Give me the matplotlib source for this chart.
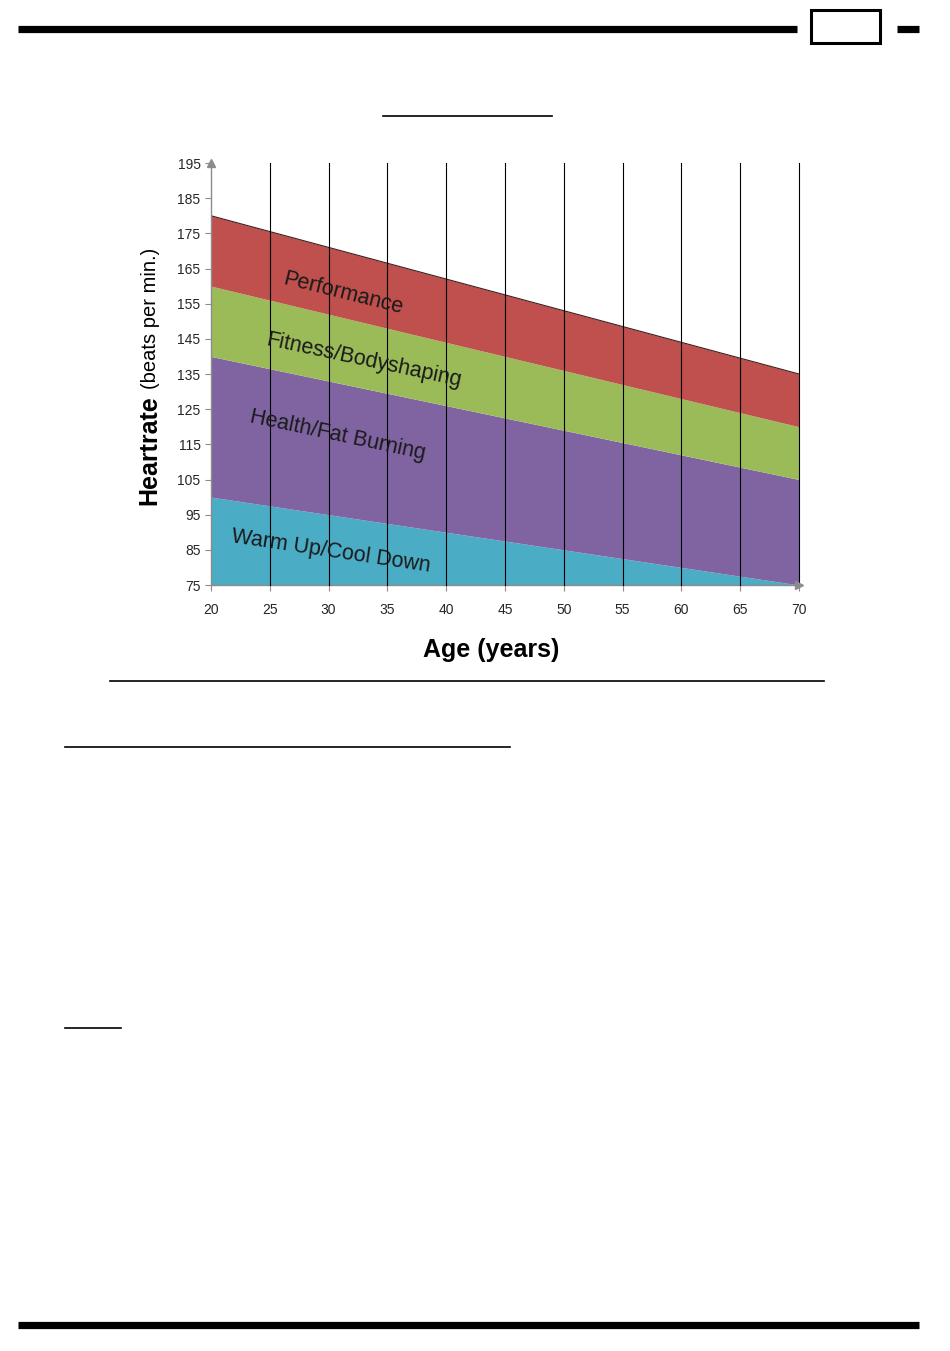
import matplotlib
matplotlib.use('Agg')
import matplotlib.pyplot as plt
from matplotlib.patches import Rectangle

# dades llegides del gràfic (pulsacions per edat)
ages = [20, 25, 30, 35, 40, 45, 50, 55, 60, 65, 70]
warmup_top = [100, 97.5, 95, 92.5, 90, 87.5, 85, 82.5, 80, 77.5, 75]
health_top = [140, 136.5, 133, 129.5, 126, 122.5, 119, 115.5, 112, 108.5, 105]
fitness_top = [160, 156, 152, 148, 144, 140, 136, 132, 128, 124, 120]
performance_top = [180, 175.5, 171, 166.5, 162, 157.5, 153, 148.5, 144, 139.5, 135]

zone_names = ['Warm Up/Cool Down', 'Health/Fat Burning', 'Fitness/Bodyshaping', 'Performance']
zone_colors = ['#4bacc6', '#8064a2', '#9bbb59', '#c0504d']
y_ticks = list(range(75, 196, 10))
x_ticks = ages

W, H = 950, 1351
fig = plt.figure(figsize=(W / 100, H / 100), dpi=100)

# capa de fons per a les línies de la pàgina (coordenades en píxels)
page = fig.add_axes([0, 0, 1, 1])
page.set_xlim(0, W)
page.set_ylim(H, 0)
page.axis('off')
page.plot([18, 797], [29, 29], color='black', lw=5.2, solid_capstyle='butt')
page.add_patch(Rectangle((811, 10), 69, 33, fill=False, edgecolor='black', lw=2.2))
page.plot([897, 919], [29, 29], color='black', lw=5.2, solid_capstyle='butt')
page.plot([383, 552], [116, 116], color='black', lw=1.2)
page.plot([110, 824], [681, 681], color='black', lw=1.2)
page.plot([65, 510], [747, 747], color='black', lw=1.2)
page.plot([65, 121], [1028, 1028], color='black', lw=1.2)
page.plot([18, 919], [1325, 1325], color='black', lw=5.2, solid_capstyle='butt')

# eixos del gràfic
ax = fig.add_axes([211 / W, 1 - 585 / H, 588 / W, 422 / H])
ax.set_xlim(20, 70)
ax.set_ylim(75, 195)

bottoms = [[75] * len(ages), warmup_top, health_top, fitness_top]
tops = [warmup_top, health_top, fitness_top, performance_top]
for lo, hi, c in zip(bottoms, tops, zone_colors):
    ax.fill_between(ages, lo, hi, color=c, lw=0, zorder=1)
ax.plot(ages, performance_top, color='#3a2020', lw=0.8, zorder=2)

# línies verticals de la graella
for a in x_ticks[1:]:
    ax.axvline(a, color='black', lw=0.8, zorder=3, clip_on=False)

for s in ['top', 'right']:
    ax.spines[s].set_visible(False)
for s in ['left', 'bottom']:
    ax.spines[s].set_color('#8c8c8c')
    ax.spines[s].set_linewidth(1.0)
ax.plot([20], [195], marker='^', color='#8c8c8c', ms=6, clip_on=False, zorder=4)
ax.plot([70], [75], marker='>', color='#8c8c8c', ms=6, clip_on=False, zorder=4)

ax.set_xticks(x_ticks)
ax.set_yticks(y_ticks)
ax.tick_params(axis='both', colors='#8c8c8c', labelcolor='#262626', length=4, width=0.8, labelsize=10)
ax.tick_params(axis='x', pad=9)
for lab in ax.get_xticklabels() + ax.get_yticklabels():
    lab.set_fontfamily('Liberation Sans')

# etiquetes de les zones
label_pos = [(30.2, 84.5), (30.8, 117.5), (33.0, 139), (31.2, 158)]
label_rot = [-8.5, -12, -12, -14]
for name, (x, y), r in zip(zone_names, label_pos, label_rot):
    ax.text(x, y, name, rotation=r, ha='center', va='center', fontsize=15.5,
            color='#1a1a1a', family='Liberation Sans', zorder=5)

# títols dels eixos
fig.text(491 / W, 1 - 650 / H, 'Age (years)', ha='center', va='center', fontsize=18,
         fontweight='bold', family='Liberation Sans')
fig.text(156 / W, 1 - 505 / H, 'Heartrate', rotation=90, rotation_mode='anchor',
         ha='left', va='baseline', fontsize=18, fontweight='bold', family='Liberation Sans')
fig.text(156 / W, 1 - 389 / H, '(beats per min.)', rotation=90, rotation_mode='anchor',
         ha='left', va='baseline', fontsize=14.5, family='Liberation Sans')

fig.savefig('out.png', dpi=100)
